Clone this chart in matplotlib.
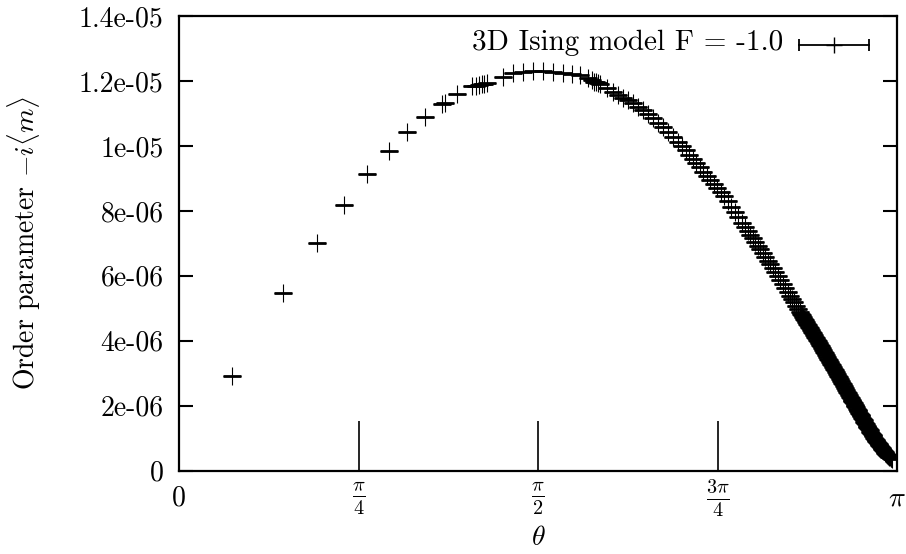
import numpy as np
import matplotlib
matplotlib.use('Agg')
import matplotlib.pyplot as plt

plt.rcParams['font.family'] = ['cmr10']
plt.rcParams['mathtext.fontset'] = 'cm'
plt.rcParams['axes.unicode_minus'] = False

# theta (radians) and order parameter -i<m> (in units of 1e-6)
theta = [
    0.2306, 0.4564, 0.6038, 0.7233, 0.8239, 0.9189, 0.9989, 1.0777, 1.1494, 1.1639,
    1.2177, 1.2820, 1.2995, 1.3127, 1.3258, 1.3345, 1.3477,
    1.4163, 1.4601, 1.5065, 1.5502, 1.5940, 1.6378, 1.6789, 1.7183, 1.7546, 1.7909,
    1.8071, 1.8158, 1.8246, 1.8333, 1.8421, 1.8714, 1.9003, 1.9222, 1.9440, 1.9659,
    1.9878, 2.0097, 2.0315, 2.0534, 2.0753, 2.0972, 2.1191, 2.1409, 2.1628, 2.1847,
    2.2009, 2.2162, 2.2315, 2.2468, 2.2621, 2.2775, 2.2928, 2.3081, 2.3234, 2.3387,
    2.3540, 2.3693, 2.3846, 2.3999, 2.4153, 2.4306, 2.4459, 2.4612, 2.4765,
    2.4875, 2.4984, 2.5094, 2.5203, 2.5312, 2.5422, 2.5531, 2.5640, 2.5750, 2.5859,
    2.5969, 2.6078, 2.6187, 2.6297, 2.6406, 2.6516, 2.6625, 2.6734,
    2.6822, 2.6909, 2.6997, 2.7084, 2.7172, 2.7259, 2.7347, 2.7434, 2.7522, 2.7609,
    2.7697, 2.7784, 2.7872, 2.7959, 2.8047, 2.8135, 2.8222, 2.8310, 2.8397, 2.8485,
    2.8572, 2.8660, 2.8747, 2.8835, 2.8922, 2.9010, 2.9097, 2.9185, 2.9272, 2.9360,
    2.9425, 2.9491, 2.9557, 2.9622, 2.9688, 2.9753, 2.9819, 2.9885, 2.9950, 3.0016,
    3.0082, 3.0147, 3.0213, 3.0278, 3.0344, 3.0410, 3.0475, 3.0541, 3.0607, 3.0672,
    3.0738, 3.0804, 3.0869, 3.0935, 3.1001, 3.1066, 3.1132, 3.1198,
]
order_param_e6 = [
    2.91, 5.46, 7.02, 8.18, 9.13, 9.84, 10.42, 10.89, 11.30, 11.33,
    11.61, 11.83, 11.86, 11.89, 11.90, 11.92, 11.95,
    12.13, 12.25, 12.29, 12.31, 12.31, 12.29, 12.26, 12.22, 12.17, 12.08,
    12.02, 11.98, 11.96, 11.93, 11.90, 11.77, 11.66, 11.58, 11.49, 11.41,
    11.32, 11.21, 11.10, 10.98, 10.85, 10.71, 10.57, 10.43, 10.28, 10.12,
    9.99, 9.86, 9.73, 9.60, 9.47, 9.34, 9.21, 9.08, 8.96, 8.84,
    8.71, 8.58, 8.45, 8.30, 8.12, 7.96, 7.80, 7.64, 7.49,
    7.38, 7.27, 7.16, 7.05, 6.93, 6.82, 6.70, 6.58, 6.47, 6.35,
    6.23, 6.12, 6.00, 5.88, 5.76, 5.63, 5.51, 5.38,
    5.28, 5.18, 5.08, 4.98, 4.88, 4.78, 4.68, 4.58, 4.48, 4.38,
    4.28, 4.18, 4.08, 3.98, 3.88, 3.77, 3.66, 3.56, 3.45, 3.35,
    3.24, 3.14, 3.03, 2.92, 2.82, 2.71, 2.60, 2.49, 2.38, 2.27,
    2.19, 2.11, 2.03, 1.95, 1.87, 1.79, 1.71, 1.63, 1.55, 1.47,
    1.39, 1.31, 1.24, 1.16, 1.09, 1.02, 0.95, 0.88, 0.81, 0.75,
    0.69, 0.63, 0.57, 0.52, 0.47, 0.43, 0.40, 0.37,
]
# second, denser run near theta = pi
theta_dense = [
    2.7216, 2.7303, 2.7391, 2.7478, 2.7566, 2.7653, 2.7741, 2.7828, 2.7916, 2.8003,
    2.8091, 2.8179, 2.8266, 2.8354, 2.8441, 2.8529, 2.8616, 2.8704, 2.8791, 2.8879,
    2.8966, 2.9054, 2.9141, 2.9229, 2.9316, 2.9393, 2.9458, 2.9524, 2.9590, 2.9655,
    2.9721, 2.9786, 2.9852, 2.9918, 2.9983, 3.0049, 3.0115, 3.0180, 3.0246, 3.0311,
    3.0377, 3.0443, 3.0508, 3.0574, 3.0640, 3.0705, 3.0771, 3.0837, 3.0902, 3.0968,
    3.1034, 3.1099, 3.1165,
]
order_param_dense_e6 = [
    4.83, 4.73, 4.63, 4.53, 4.43, 4.33, 4.23, 4.13, 4.03, 3.93,
    3.825, 3.715, 3.61, 3.505, 3.40, 3.295, 3.19, 3.085, 2.975, 2.87,
    2.765, 2.655, 2.545, 2.435, 2.325, 2.23, 2.15, 2.07, 1.99, 1.91,
    1.83, 1.75, 1.67, 1.59, 1.51, 1.43, 1.35, 1.275, 1.20, 1.125,
    1.055, 0.985, 0.915, 0.845, 0.78, 0.72, 0.66, 0.60, 0.545, 0.495,
    0.45, 0.415, 0.385,
]

ytick_vals = [0, 2e-6, 4e-6, 6e-6, 8e-6, 1e-5, 1.2e-5, 1.4e-5]
ytick_labels = ['0', '2e-06', '4e-06', '6e-06', '8e-06', '1e-05', '1.2e-05', '1.4e-05']
xtick_vals = [0, np.pi / 4, np.pi / 2, 3 * np.pi / 4, np.pi]
xtick_labels = ['0', r'$\frac{\pi}{4}$', r'$\frac{\pi}{2}$', r'$\frac{3\pi}{4}$', r'$\pi$']
legend_label = '3D Ising model F = -1.0'

fig = plt.figure(figsize=(9.06, 5.54), dpi=100)
ax = fig.add_axes([0.1976, 0.1504, 0.7925, 0.8207])

for th, vals in ((theta, order_param_e6), (theta_dense, order_param_dense_e6)):
    y = np.array(vals) * 1e-6
    ax.plot(th, y, ls='none', marker='+', ms=13, mew=0.8, color='black')
    ax.plot(th, y, ls='none', marker='_', ms=13, mew=2.0, color='black')

ax.set_xlim(0, np.pi)
ax.set_ylim(0, 1.4e-5)

for s in ax.spines.values():
    s.set_linewidth(1.6)

ax.set_yticks(ytick_vals, ytick_labels)
ax.tick_params(axis='y', direction='in', length=10, width=1.5, pad=11,
               right=True, labelsize=20)
ax.set_xticks(xtick_vals, xtick_labels)
ax.tick_params(axis='x', direction='in', length=36, width=1.2, top=False,
               pad=20, labelsize=20)
for i, lbl in enumerate(ax.get_xticklabels()):
    lbl.set_verticalalignment('center')
    if 0 < i < 4:
        lbl.set_fontsize(21)

ax.set_ylabel(r'Order parameter $-i\langle m\rangle$', fontsize=20)
ax.yaxis.set_label_coords(-0.19, 0.5)
ax.set_xlabel(r'$\theta$', fontsize=20)
ax.xaxis.set_label_coords(0.5, -0.118)

# key
ax.text(0.8412, 0.9252, legend_label, transform=ax.transAxes, ha='right',
        va='baseline', fontsize=21)
ax.plot([0.8635, 0.961], [0.9362, 0.9362], transform=ax.transAxes, color='black',
        lw=1.3, marker='|', ms=8, mew=1.3)
ax.plot([0.912], [0.9362], transform=ax.transAxes, color='black', marker='+',
        ms=11, mew=1.0, ls='none')

fig.savefig('out.png', dpi=100)
